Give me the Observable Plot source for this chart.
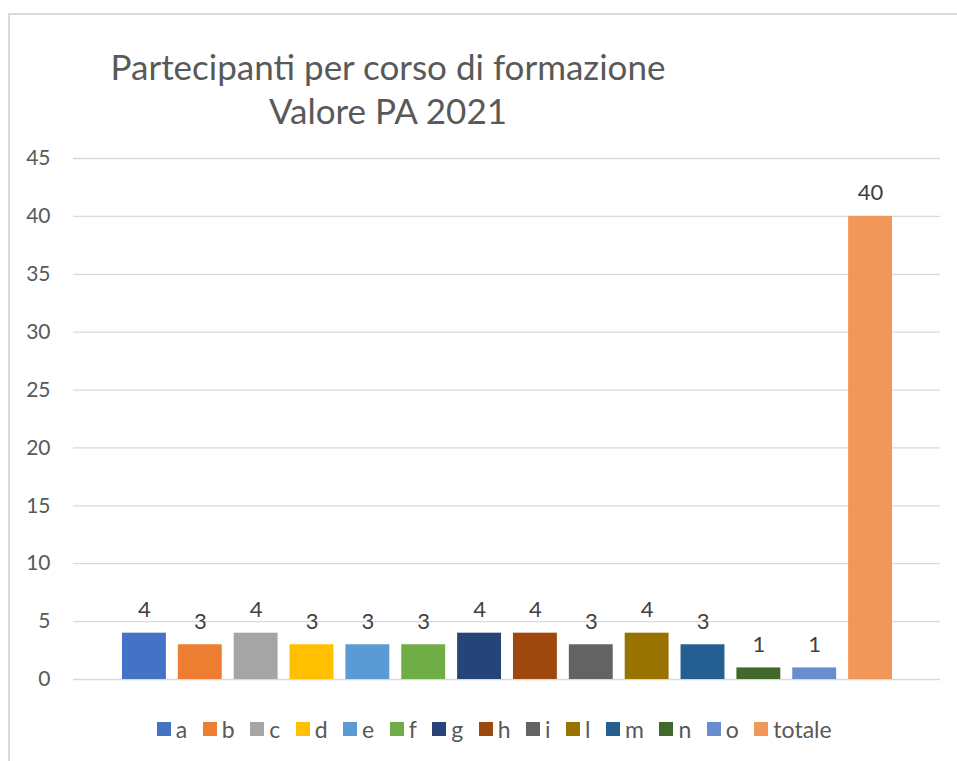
<!DOCTYPE html>
<html><head><meta charset="utf-8">
<script src="https://cdn.jsdelivr.net/npm/d3@7"></script>
<script src="https://cdn.jsdelivr.net/npm/@observablehq/plot@0.6"></script>
<style>
html,body{margin:0;padding:0;background:#fff;overflow:hidden;width:957px;height:761px;}
#frame{position:absolute;left:8px;top:13px;width:1000px;height:800px;border-left:2px solid #d9d9d9;border-top:2px solid #d9d9d9;box-sizing:border-box;}
#chart{position:absolute;left:0;top:0;}
.title{position:absolute;left:88px;width:600px;text-align:center;font-family:Lato,sans-serif;font-size:35px;color:#595959;white-space:nowrap;}
#legend{position:absolute;left:0;top:712px;width:1004px;display:flex;justify-content:center;}
#legend .lg-swatch{margin-right:15.5px !important;font-family:Lato,sans-serif;font-size:23px;color:#595959;}
#legend .lg-swatch > svg{margin-right:5px !important;}
</style></head><body>
<div id="frame"></div>
<div id="chart"></div>
<div class="title" style="top:45px;">Partecipanti per corso di formazione</div>
<div class="title" style="top:89px;">Valore PA 2021</div>
<div id="legend"></div>
<script>
const titleLines = ["Partecipanti per corso di formazione", "Valore PA 2021"];
const categories = ["a","b","c","d","e","f","g","h","i","l","m","n","o","totale"];
const values = [4,3,4,3,3,3,4,4,3,4,3,1,1,40];
const colors = ["#4472C4","#ED7D31","#A5A5A5","#FFC000","#5B9BD5","#70AD47","#264478","#9E480E","#636363","#997300","#255E91","#43682B","#698ED0","#F1975A"];
const yTicks = [0,5,10,15,20,25,30,35,40,45];

const data = categories.map((c,i)=>({cat:c, value:values[i]}));

const plot = Plot.plot({
  width: 957,
  height: 761,
  marginLeft: 73,
  marginRight: 17,
  marginTop: 158,
  marginBottom: 82,
  style: {background: "transparent", fontFamily: "Lato, sans-serif", color: "#595959"},
  x: {domain: categories, insetLeft: 43, insetRight: 42, paddingInner: 0.214, paddingOuter: 0.107, round: false, axis: null},
  y: {domain: [0,45]},
  color: {domain: categories, range: colors},
  marks: [
    Plot.ruleY(yTicks, {stroke: "#d9d9d9", strokeWidth: 1.3}),
    Plot.axisY({ticks: yTicks, tickSize: 0, tickPadding: 23, fontSize: 21, fill: "#595959", label: null}),
    Plot.barY(data, {x: "cat", y: "value", fill: "cat"}),
    Plot.text(data, {x: "cat", y: "value", text: d => String(d.value), dy: -23, fontSize: 22, fill: "#404040"})
  ]
});
document.getElementById("chart").appendChild(plot);

const leg = Plot.legend({color: {domain: categories, range: colors, type: "categorical"}, swatchSize: 14, className: "lg"});
document.getElementById("legend").appendChild(leg);
</script>
</body></html>
